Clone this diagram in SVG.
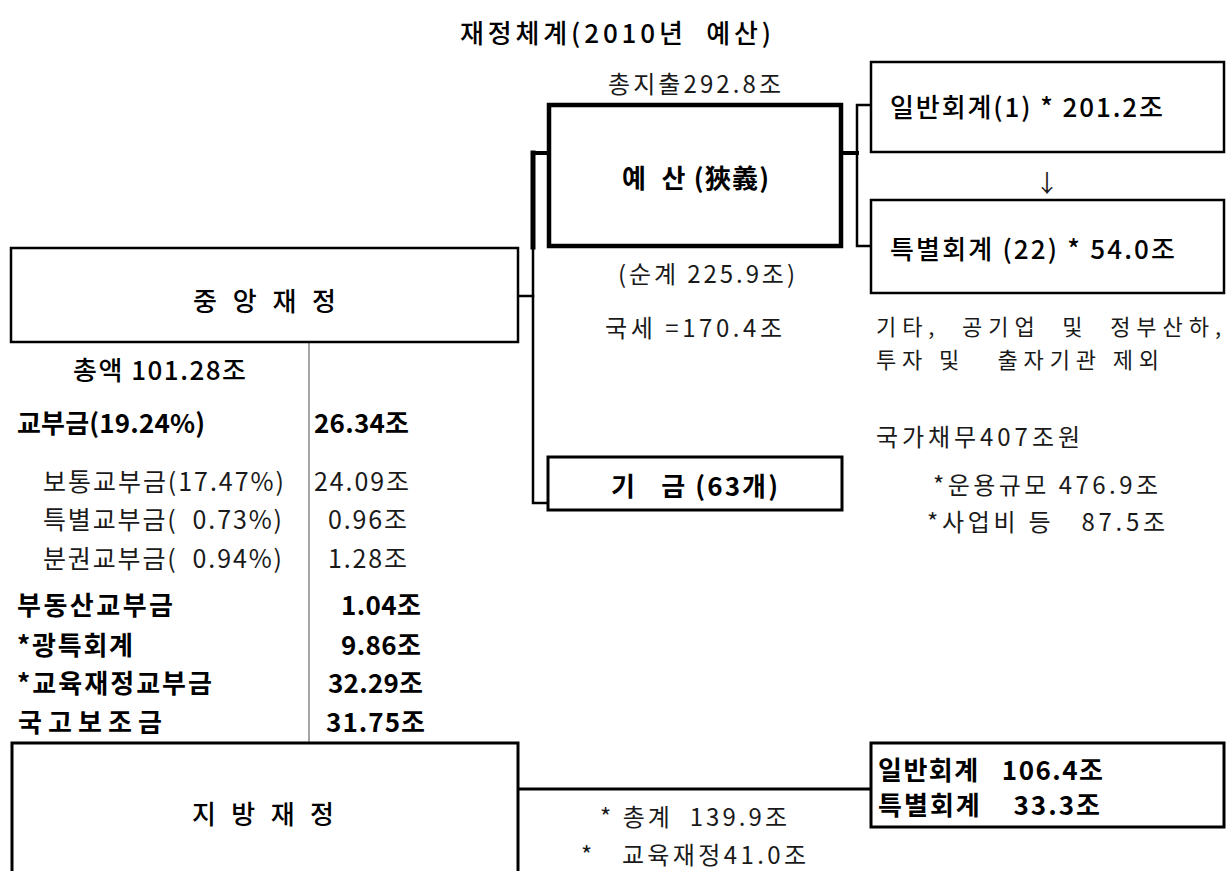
<svg xmlns="http://www.w3.org/2000/svg" width="1227" height="871" viewBox="0 0 1227 871">
<style>
text{font-family:"Noto Sans CJK KR","Noto Sans",sans-serif;fill:#000;dominant-baseline:central;white-space:pre}
.t{font-size:26px;font-weight:500}
.n{font-size:24px;font-weight:400;fill:#1a1a1a}
.s{font-size:22px;font-weight:400;fill:#1a1a1a}
.m{font-size:26px;font-weight:500}
.b{font-size:26px;font-weight:700}
.l{font-size:25px;font-weight:400;fill:#1a1a1a}
.box{fill:#fff;stroke:#000}
.c{fill:none;stroke:#000;stroke-linecap:square}
</style>
<rect width="1227" height="871" fill="#fff"/>
<text class="t" x="460" y="31" textLength="311" lengthAdjust="spacing">재정체계(2010년  예산)</text>
<text class="n" x="608" y="82" textLength="173" lengthAdjust="spacing">총지출292.8조</text>
<g id="connectors">
  <path class="c" d="M533 153 V247" stroke-width="5"/>
  <path class="c" d="M533 153 H549" stroke-width="4"/>
  <path class="c" d="M533 247 V503 H548" stroke-width="2.5"/>
  <path class="c" d="M518 296 H533" stroke-width="2.5"/>
  <path class="c" d="M841 153 H857" stroke-width="4"/>
  <path class="c" d="M871 105 H857 V246 H871" stroke-width="2.5"/>
  <path d="M309 342 V743" stroke="#888" stroke-width="1.5" fill="none"/>
  <path class="c" d="M518 789 H871" stroke-width="3"/>
</g>
<g id="budget">
  <rect class="box" x="549" y="105" width="292" height="141" stroke-width="4.5"/>
  <text class="b" x="622" y="176" textLength="147" lengthAdjust="spacing">예  산 (狹義)</text>
  <text class="n" x="618" y="272" textLength="177" lengthAdjust="spacing">(순계 225.9조)</text>
  <text class="n" x="605" y="326" textLength="177" lengthAdjust="spacing">국세 =170.4조</text>
</g>
<g id="general-account">
  <rect class="box" x="871" y="62" width="353" height="90" stroke-width="2.5"/>
  <text class="m" x="890" y="105" textLength="273" lengthAdjust="spacing">일반회계(1) * 201.2조</text>
</g>
<text class="n" x="1047" y="181" text-anchor="middle">↓</text>
<g id="special-account">
  <rect class="box" x="871" y="200" width="353" height="93" stroke-width="2.5"/>
  <text class="m" x="890" y="247" textLength="285" lengthAdjust="spacing">특별회계 (22) * 54.0조</text>
</g>
<g id="notes-right">
  <text class="s" x="876" y="325" textLength="345" lengthAdjust="spacing">기타,  공기업  및  정부산하,</text>
  <text class="s" x="876" y="358" textLength="283" lengthAdjust="spacing">투자 및   출자기관 제외</text>
  <text class="n" x="876" y="435" textLength="204" lengthAdjust="spacing">국가채무407조원</text>
  <text class="n" x="933" y="483" textLength="225" lengthAdjust="spacing">*운용규모 476.9조</text>
  <text class="n" x="927" y="520" textLength="238" lengthAdjust="spacing">*사업비 등   87.5조</text>
</g>
<g id="fund">
  <rect class="box" x="548" y="457" width="294" height="53" stroke-width="3"/>
  <text class="b" x="611" y="484" textLength="167" lengthAdjust="spacing">기   금 (63개)</text>
</g>
<g id="central">
  <rect class="box" x="11" y="248" width="507" height="94" stroke-width="2.5"/>
  <text class="m" x="193" y="299" textLength="143" lengthAdjust="spacing">중 앙 재 정</text>
</g>
<g id="central-items">
  <text class="m" x="73" y="368" textLength="173" lengthAdjust="spacing">총액 101.28조</text>
  <text class="b" x="17" y="421" textLength="188" lengthAdjust="spacing">교부금(19.24%)</text>
  <text class="b" x="314" y="421" textLength="95" lengthAdjust="spacing">26.34조</text>
  <text class="l" x="43" y="480" textLength="241" lengthAdjust="spacing">보통교부금(17.47%)</text>
  <text class="l" x="314" y="480" textLength="95" lengthAdjust="spacing">24.09조</text>
  <text class="l" x="43" y="518" textLength="239" lengthAdjust="spacing">특별교부금(  0.73%)</text>
  <text class="l" x="328" y="518" textLength="79" lengthAdjust="spacing">0.96조</text>
  <text class="l" x="43" y="557" textLength="239" lengthAdjust="spacing">분권교부금(  0.94%)</text>
  <text class="l" x="328" y="557" textLength="79" lengthAdjust="spacing">1.28조</text>
  <text class="b" x="17" y="603" textLength="156" lengthAdjust="spacing">부동산교부금</text>
  <text class="b" x="341" y="603" textLength="80" lengthAdjust="spacing">1.04조</text>
  <text class="b" x="17" y="643" textLength="116" lengthAdjust="spacing">*광특회계</text>
  <text class="b" x="341" y="643" textLength="80" lengthAdjust="spacing">9.86조</text>
  <text class="b" x="17" y="681" textLength="195" lengthAdjust="spacing">*교육재정교부금</text>
  <text class="b" x="328" y="681" textLength="95" lengthAdjust="spacing">32.29조</text>
  <text class="b" x="18" y="720" textLength="144" lengthAdjust="spacing">국고보조금</text>
  <text class="b" x="326" y="720" textLength="99" lengthAdjust="spacing">31.75조</text>
</g>
<g id="local">
  <rect class="box" x="12" y="743" width="506" height="150" stroke-width="3"/>
  <text class="m" x="192" y="812" textLength="142" lengthAdjust="spacing">지 방 재 정</text>
  <text class="n" x="600" y="815" textLength="187" lengthAdjust="spacing">* 총계  139.9조</text>
  <text class="n" x="581" y="853" textLength="225" lengthAdjust="spacing">*   교육재정41.0조</text>
</g>
<g id="local-accounts">
  <rect class="box" x="871" y="743" width="353" height="84" stroke-width="3"/>
  <text class="b" x="878" y="768" textLength="225" lengthAdjust="spacing">일반회계   106.4조</text>
  <text class="b" x="878" y="803" textLength="222" lengthAdjust="spacing">특별회계    33.3조</text>
</g>
</svg>
